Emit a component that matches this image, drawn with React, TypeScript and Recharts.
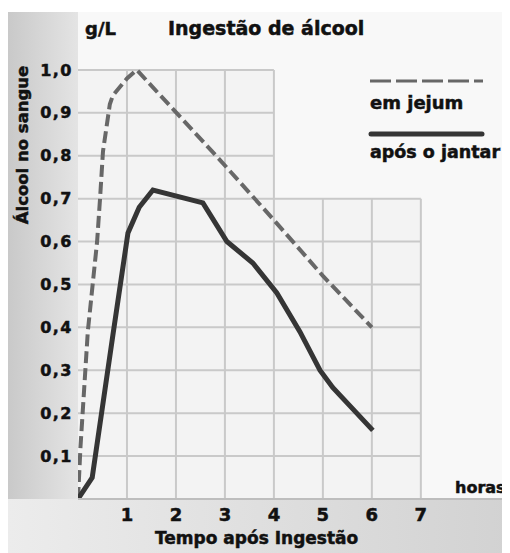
import { LineChart, Line, XAxis, YAxis, ReferenceLine, ReferenceArea } from 'recharts';

// em jejum (dashed)
const jejumHours = [0, 0.05, 0.2, 0.39, 0.45, 0.51, 0.65, 0.71, 1.0, 1.2, 2.9, 4.0, 5.0, 6.0];
const jejumValues = [0, 0.12, 0.39, 0.6, 0.7, 0.81, 0.92, 0.94, 0.98, 1.0, 0.79, 0.65, 0.52, 0.4];

// após o jantar (solid)
const jantarHours = [0, 0.29, 0.71, 1.02, 1.25, 1.53, 2.55, 3.04, 3.57, 4.06, 4.53, 4.94, 5.2, 6.02];
const jantarValues = [0, 0.05, 0.38, 0.62, 0.68, 0.72, 0.69, 0.6, 0.55, 0.48, 0.39, 0.3, 0.26, 0.16];

const xTicks = [1, 2, 3, 4, 5, 6, 7];
const yTicks = [0.1, 0.2, 0.3, 0.4, 0.5, 0.6, 0.7, 0.8, 0.9, 1.0];

const jejumData = jejumHours.map((x, i) => ({ x, y: jejumValues[i] }));
const jantarData = jantarHours.map((x, i) => ({ x, y: jantarValues[i] }));

const W = 502;
const H = 545;
const FONT = '"DejaVu Sans", sans-serif';
const GRID = '#c9c9c9';
const INK = '#111';

const fmt = (v: number) => v.toFixed(1).replace('.', ',');

export default function App() {
  return (
    <div style={{ position: 'relative', width: W, height: H, background: '#fff' }}>
      {/* background panels */}
      <div style={{ position: 'absolute', left: 0, top: 4, width: W, height: H - 4, background: '#f8f8f8' }} />
      <div
        style={{
          position: 'absolute', left: 0, top: 4, width: 70, height: 487,
          background: 'linear-gradient(to right, #c9c9c9, #e4e4e4)',
        }}
      />
      <div
        style={{
          position: 'absolute', left: 0, top: 491, width: W, height: H - 491,
          background: 'linear-gradient(to right, #ececec, #d2d2d2)',
        }}
      />
      <LineChart
        width={W}
        height={H}
        margin={{ top: 19, right: 1, bottom: 24, left: 0 }}
        style={{ position: 'absolute', left: 0, top: 0 }}
      >
        <XAxis
          type="number"
          dataKey="x"
          domain={[0, 8.8]}
          ticks={xTicks}
          allowDataOverflow
          height={30}
          tickLine={false}
          tickSize={7}
          axisLine={{ stroke: '#bdbdbd', strokeWidth: 2 }}
          tick={{ fill: INK, stroke: INK, strokeWidth: 0.5, fontFamily: FONT, fontWeight: 'bold', fontSize: 18 }}
        />
        <YAxis
          type="number"
          dataKey="y"
          domain={[0, 1.1]}
          ticks={yTicks}
          allowDataOverflow
          width={70}
          tickLine={false}
          axisLine={false}
          tickSize={3}
          tickFormatter={fmt}
          tick={{
            fill: INK, stroke: INK, strokeWidth: 0.5, fontFamily: FONT, fontWeight: 'bold',
            fontSize: 16, letterSpacing: 1.5,
          }}
        />
        <ReferenceArea x1={0} x2={7} y1={0} y2={0.7} fill="#f3f3f3" fillOpacity={1} stroke="none" />
        <ReferenceArea x1={0} x2={4} y1={0.7} y2={1.0} fill="#f3f3f3" fillOpacity={1} stroke="none" />
        {yTicks.map((v) => (
          <ReferenceLine
            key={'h' + v}
            segment={[{ x: 0, y: v }, { x: v > 0.75 ? 4 : 7, y: v }]}
            stroke={GRID}
            strokeWidth={2}
          />
        ))}
        {xTicks.map((v) => (
          <ReferenceLine
            key={'v' + v}
            segment={[{ x: v, y: 0 }, { x: v, y: v <= 4 ? 1.0 : 0.7 }]}
            stroke={GRID}
            strokeWidth={2}
          />
        ))}
        <Line
          data={jejumData}
          dataKey="y"
          type="linear"
          stroke="#676767"
          strokeWidth={4}
          strokeDasharray="12 5"
          dot={false}
          isAnimationActive={false}
        />
        <Line
          data={jantarData}
          dataKey="y"
          type="linear"
          stroke="#353535"
          strokeWidth={5}
          dot={false}
          isAnimationActive={false}
        />
      </LineChart>
      <svg
        width={W}
        height={H}
        style={{ position: 'absolute', left: 0, top: 0, pointerEvents: 'none' }}
        fontFamily={FONT}
        fontWeight="bold"
        fill={INK}
        stroke={INK}
        strokeWidth={0.5}
      >
        <text x={77} y={20} fontSize={18} dominantBaseline="central">g/L</text>
        <text x={160} y={20} fontSize={19} dominantBaseline="central">Ingestão de álcool</text>
        <text
          x={14}
          y={137}
          fontSize={16.5}
          textAnchor="middle"
          dominantBaseline="central"
          transform="rotate(-90 14 137)"
        >
          Álcool no sangue
        </text>
        <line x1={362} y1={73} x2={475} y2={73} stroke="#676767" strokeWidth={3} strokeDasharray="21 5" />
        <text x={362} y={94} fontSize={18} dominantBaseline="central">em jejum</text>
        <line x1={363} y1={126} x2={474} y2={126} stroke="#353535" strokeWidth={5} strokeLinecap="round" />
        <text x={362} y={144} fontSize={17.5} dominantBaseline="central">após o jantar</text>
        <text x={447} y={479} fontSize={16} dominantBaseline="central">horas</text>
        <text x={147} y={530} fontSize={17} dominantBaseline="central">Tempo após Ingestão</text>
      </svg>
    </div>
  );
}
